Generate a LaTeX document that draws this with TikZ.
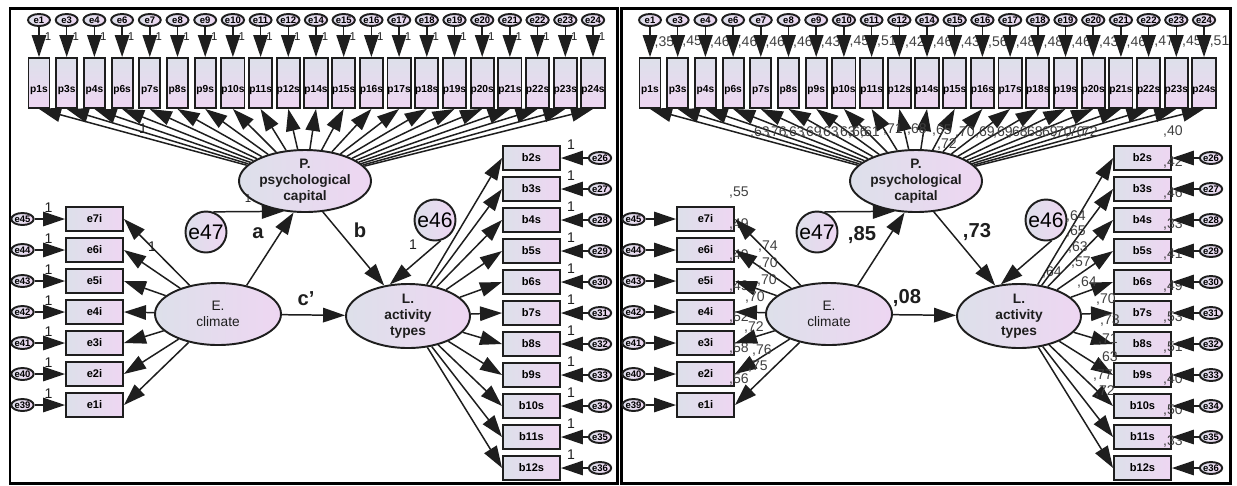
\documentclass[tikz,border=0pt]{standalone}
\usepackage{fontspec}
\setmainfont{Liberation Sans}
\usetikzlibrary{shapes.geometric,arrows.meta}
\definecolor{cA}{RGB}{221,224,234}
\definecolor{cB}{RGB}{238,214,242}
\definecolor{ink}{RGB}{30,30,30}
\tikzset{
 shadefill/.style={left color=cA, right color=cB},
 obsv/.style={draw=ink, line width=1.1pt, shadefill, minimum width=57*0.02cm, minimum height=24*0.02cm, inner sep=0, font=\fontsize{6.3}{6.3}\selectfont\bfseries},
 obsp/.style={draw=ink, line width=1.1pt, top color=cA, bottom color=cB, minimum width=21*0.02cm, minimum height=50*0.02cm, inner sep=0, text height=0.36cm, text depth=0cm, font=\fontsize{5.8}{5.8}\selectfont\bfseries},
 err/.style={ellipse, draw=ink, line width=1.1pt, shadefill, minimum width=22*0.02cm, minimum height=12*0.02cm, inner sep=0, font=\fontsize{5.4}{5.4}\selectfont\bfseries},
 latent/.style={ellipse, draw=ink, line width=1.1pt, shadefill, inner sep=0},
 lattext/.style={align=center, inner sep=0, font=\fontsize{7.8}{9}\selectfont\bfseries, text=ink},
 lattextr/.style={align=center, inner sep=0, font=\fontsize{7.8}{9}\selectfont, text=ink},
 bigerr/.style={circle, draw=ink, line width=1.1pt, shadefill, minimum size=41*0.02cm, inner sep=0, font=\fontsize{12}{12}\selectfont},
 arr/.style={draw=ink, line width=0.85pt, -{Triangle[length=0.44cm,width=0.29cm]}},
 onesm/.style={font=\fontsize{6.5}{6.5}\selectfont, inner sep=0, text=ink},
 one/.style={font=\fontsize{8}{8}\selectfont, inner sep=0, text=ink},
 num/.style={font=\fontsize{8}{8}\selectfont, inner sep=0, text=ink!85},
 coef/.style={font=\fontsize{11.5}{11.5}\selectfont\bfseries, inner sep=0, text=ink},
 frame/.style={draw=black, line width=1.7pt}
}
\newcommand\drawnodes[2]{%
 \foreach \n [count=\i from 0] in {1,3,4,6,7,8,9,10,11,12,14,15,16,17,18,19,20,21,22,23,24}{%
  \node[obsp] (#1p\n) at (#2+39+27.7*\i,83) {p\n s};
  \node[err] (#1e\n) at (#2+39+27.7*\i,20) {e\n};
 }
 \foreach \n/\m [count=\k from 0] in {7/45,6/44,5/43,4/42,3/41,2/40,1/39}{%
  \node[obsv] (#1i\n) at (#2+94.5,219+31*\k) {e\n i};
  \node[err] (#1e\m) at (#2+22.5,219+31*\k) {e\m};
 }
 \foreach \n/\m [count=\k from 0] in {2/26,3/27,4/28,5/29,6/30,7/31,8/32,9/33,10/34,11/35,12/36}{%
  \node[obsv] (#1b\n) at (#2+531.5,158+31*\k) {b\n s};
  \node[err] (#1e\m) at (#2+600,158+31*\k) {e\m};
 }
 \node[latent, minimum width=132*0.02cm, minimum height=62*0.02cm] (#1P) at (#2+305,181) {};
 \node[lattext] (#1Pt) at (#1P) {P.\\psychological\\capital};
 \node[latent, minimum width=126*0.02cm, minimum height=62*0.02cm] (#1E) at (#2+218,314) {};
 \node[lattextr] (#1Et) at (#1E) {E.\\climate};
 \node[latent, minimum width=124*0.02cm, minimum height=64*0.02cm] (#1L) at (#2+408,316) {};
 \node[lattext] (#1Lt) at (#1L) {L.\\activity\\types};
 \node[bigerr] (#1e47) at (#2+206,232) {e47};
 \node[bigerr] (#1e46) at (#2+435,220) {e46};
}
\newcommand\drawarrows[1]{%
 \foreach \n in {1,3,4,6,7,8,9,10,11,12,14,15,16,17,18,19,20,21,22,23,24}{%
  \draw[arr] (#1e\n) -- (#1p\n);
  \draw[arr] (#1P) -- (#1p\n.south);
 }
 \foreach \n/\m in {7/45,6/44,5/43,4/42,3/41,2/40,1/39}{%
  \draw[arr] (#1e\m) -- (#1i\n);
  \draw[arr] (#1E) -- (#1i\n.east);
 }
 \foreach \n/\m in {2/26,3/27,4/28,5/29,6/30,7/31,8/32,9/33,10/34,11/35,12/36}{%
  \draw[arr] (#1e\m) -- (#1b\n);
  \draw[arr] (#1L) -- (#1b\n.west);
 }
 \draw[arr] (#1e47.70) -- (#1P.235);
 \draw[arr] (#1E.45) -- (#1P.250);
 \draw[arr] (#1P.300) -- (#1L.128);
 \draw[arr] (#1e46.285) -- (#1L.120);
 \draw[arr] (#1E) -- (#1L);
}
\begin{document}
\begin{tikzpicture}[x=0.02cm,y=-0.02cm]
\useasboundingbox (0,0) rectangle (1237,485);
\draw[frame] (10,8) rectangle (617,483);
\draw[frame] (621,8) rectangle (1230,483);
\drawnodes{L}{0}
\drawnodes{R}{611}
% ---- left panel labels
\foreach \n in {1,3,4,6,7,8,9,10,11,12,14,15,16,17,18,19,20,21,22,23,24}{%
 \node[onesm] at ([shift={(9,10)}]Le\n.south) {1};
}
\foreach \n in {45,44,43,42,41,40,39}{%
 \node[one] at ([shift={(26,-11)}]Le\n.center) {1};
}
\foreach \n in {26,27,28,29,30,31,32,33,34,35,36}{%
 \node[one] at ([shift={(-29,-13)}]Le\n.center) {1};
}
\node[one] (l1) at (143,129) {1};
\node[one] (l2) at (152,247) {1};
\node[onesm] (l3) at (248,199) {1};
\node[one] (l4) at (413,245) {1};
\node[coef] (la) at (258,233) {a};
\node[coef] (lb) at (360,230) {b};
\node[coef] (lc) at (306,299) {c'};
% ---- right panel labels
\foreach \n/\v in {1/35,3/45,4/46,6/46,7/46,8/46,9/43,10/45,11/51,12/42,14/46,15/43,16/56,17/48,18/48,19/46,20/43,21/46,22/47,23/45,24/51}{%
 \node[num] at ([shift={(3,-15)}]Rp\n.north east) {,\v};
}
\foreach \n/\v in {7/55,6/49,5/49,4/49,3/52,2/58,1/56}{%
 \node[num] at ([shift={(4,-13)}]Ri\n.north east) {,\v};
}
\foreach \n/\v in {2/40,3/42,4/46,5/33,6/41,7/49,8/53,9/51,10/40,11/50,12/33}{%
 \node[num] at ([shift={(1,-14)}]Rb\n.north east) {,\v};
}
\node[coef] (ra) at (862,235) {,85};
\node[coef] (rb) at (977,232) {,73};
\node[coef] (rc) at (907,298) {,08};
\node[num] (rl) at (1052,272) {,64};
\drawarrows{L}
\drawarrows{R}
\foreach \v/\x/\y in {63/760/132,76/777/132,63/795/132,69/812/132,63/829/132,63/846/132,66/858/132,61/870/132,71/893/130,68/917/129,65/942/130,72/947/144,70/965/132,69/985/132,69/1003/132,68/1018/132,68/1033/132,69/1048/132,70/1062/132,70/1075/132,72/1088/132}{%
 \node[num] at (\x,\y) {,\v};
}
\foreach \v/\x/\y in {74/768/247,70/768/263,70/767/280,70/755/297,72/754/327,76/762/350,75/758/367}{%
 \node[num] at (\x,\y) {,\v};
}
\foreach \v/\x/\y in {64/1076/216,65/1076/231,63/1078/247,57/1081/263,64/1087/282,70/1106/299,73/1110/320,71/1108/340,63/1108/357,77/1103/376,72/1105/391}{%
 \node[num] at (\x,\y) {,\v};
}
\end{tikzpicture}
\end{document}
